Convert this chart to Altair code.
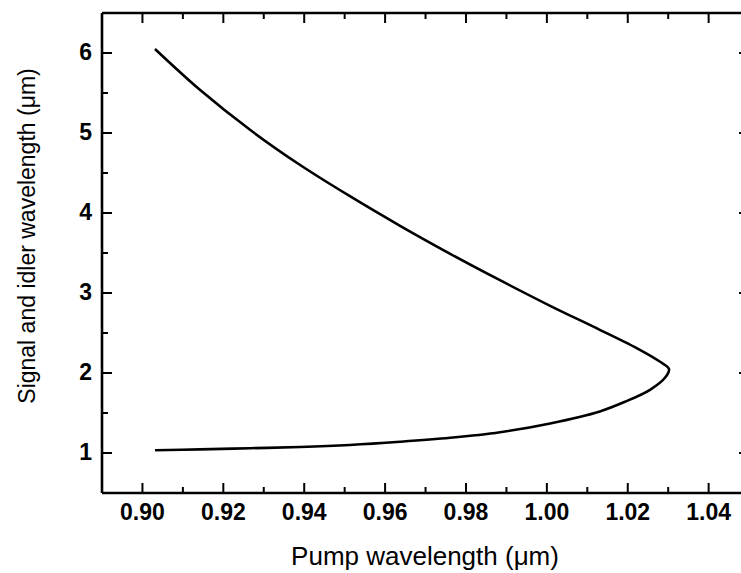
import altair as alt
import pandas as pd

# Phase-matching curve, traced from the idler end to the signal end
pump_um = [0.9031, 0.9142, 0.9266, 0.9390, 0.9513, 0.9637, 0.9761, 0.9884, 1.0008,
           1.0131, 1.0230, 1.0280, 1.0302, 1.0292, 1.0255, 1.0193, 1.0131, 1.0008,
           0.9884, 0.9761, 0.9637, 0.9513, 0.9390, 0.9266, 0.9142, 0.9031]
wavelength_um = [6.05, 5.54, 5.04, 4.60, 4.21, 3.84, 3.49, 3.16, 2.84,
                 2.54, 2.29, 2.14, 2.05, 1.94, 1.79, 1.64, 1.52, 1.37,
                 1.26, 1.19, 1.14, 1.10, 1.075, 1.06, 1.045, 1.035]

x_major = [0.90, 0.92, 0.94, 0.96, 0.98, 1.00, 1.02, 1.04]
x_minor = [0.91, 0.93, 0.95, 0.97, 0.99, 1.01, 1.03]
y_major = [1, 2, 3, 4, 5, 6]
y_minor = [1.5, 2.5, 3.5, 4.5, 5.5]
x_title = ["Pump wavelength (\u03bcm)"]
y_title = ["Signal and idler wavelength (\u03bcm)"]

x_domain = [0.89, 1.048]
y_domain = [0.5, 6.5]

W, H = 639, 480
FONT = "Liberation Sans"
BLACK = "black"

curve = pd.DataFrame({"pump": pump_um, "wl": wavelength_um, "i": range(len(pump_um))})
xs = alt.Scale(domain=x_domain, nice=False, zero=False)
ys = alt.Scale(domain=y_domain, nice=False, zero=False)


def table(values, side):
    # one small table per tick row, tagged by side so every layer has its own data
    return pd.DataFrame({"tv": [float(v) for v in values], "side": [side] * len(values)})


def xtick(values, side, y0, y1):
    return alt.Chart(table(values, side)).mark_rule(color=BLACK, strokeWidth=2).encode(
        x=alt.X("tv:Q", scale=xs, axis=None), y=alt.value(y0), y2=alt.value(y1))


def ytick(values, side, x0, x1):
    return alt.Chart(table(values, side)).mark_rule(color=BLACK, strokeWidth=2).encode(
        y=alt.Y("tv:Q", scale=ys, axis=None), x=alt.value(x0), x2=alt.value(x1))


line = alt.Chart(curve).mark_line(color=BLACK, strokeWidth=2.6, interpolate="catmull-rom").encode(
    x=alt.X("pump:Q", scale=xs, axis=None),
    y=alt.Y("wl:Q", scale=ys, axis=None),
    order="i:Q",
)

dxt = pd.DataFrame({"t": x_title})
dyt = pd.DataFrame({"t": y_title})
xl = pd.DataFrame({"xv": x_major})
yl = pd.DataFrame({"yv": [float(v) for v in y_major]})

frame_top = alt.Chart(dxt).mark_rule(color=BLACK, strokeWidth=2.6).encode(
    x=alt.value(0), x2=alt.value(W), y=alt.value(0))
frame_bottom = alt.Chart(dxt).mark_rule(color=BLACK, strokeWidth=2.6).encode(
    x=alt.value(0), x2=alt.value(W), y=alt.value(H))
frame_left = alt.Chart(dyt).mark_rule(color=BLACK, strokeWidth=2.6).encode(
    x=alt.value(0), y=alt.value(0), y2=alt.value(H))

x_labels = alt.Chart(xl).mark_text(
    font=FONT, fontSize=23, fontWeight="bold", color=BLACK, align="center",
    baseline="alphabetic").encode(
    x=alt.X("xv:Q", scale=xs, axis=None), y=alt.value(H + 27),
    text=alt.Text("xv:Q", format=".2f"))

y_labels = alt.Chart(yl).mark_text(
    font=FONT, fontSize=23, fontWeight="bold", color=BLACK, align="right",
    baseline="middle").encode(
    y=alt.Y("yv:Q", scale=ys, axis=None), x=alt.value(-10),
    text=alt.Text("yv:Q", format="d"))

x_title_mark = alt.Chart(dxt).mark_text(
    font=FONT, fontSize=26, color=BLACK, align="center", baseline="alphabetic").encode(
    x=alt.value(323), y=alt.value(H + 72), text="t:N")

y_title_mark = alt.Chart(dyt).mark_text(
    font=FONT, fontSize=23, color=BLACK, align="center", baseline="alphabetic",
    angle=270).encode(
    x=alt.value(-67), y=alt.value(223), text="t:N")

layers = [
    x_labels, y_labels, x_title_mark, y_title_mark,
    line,
    frame_top, frame_bottom, frame_left,
    xtick(x_major, "bottom-major", H, H - 10),
    xtick(x_minor, "bottom-minor", H, H - 6),
    xtick(x_major, "top-major", 0, 10),
    xtick(x_minor, "top-minor", 0, 6),
    ytick(y_major, "left-major", 0, 10),
    ytick(y_minor, "left-minor", 0, 6),
    ytick(y_major, "right-major", W - 2, W + 8),
]

chart = alt.layer(*layers).properties(
    width=W, height=H,
    autosize=alt.AutoSizeParams(type="none"),
    padding={"left": 102, "top": 13, "right": 0, "bottom": 80},
    background="white",
).configure_view(stroke=None)

chart.save("out.html", embed_options={"renderer": "svg", "actions": False})
